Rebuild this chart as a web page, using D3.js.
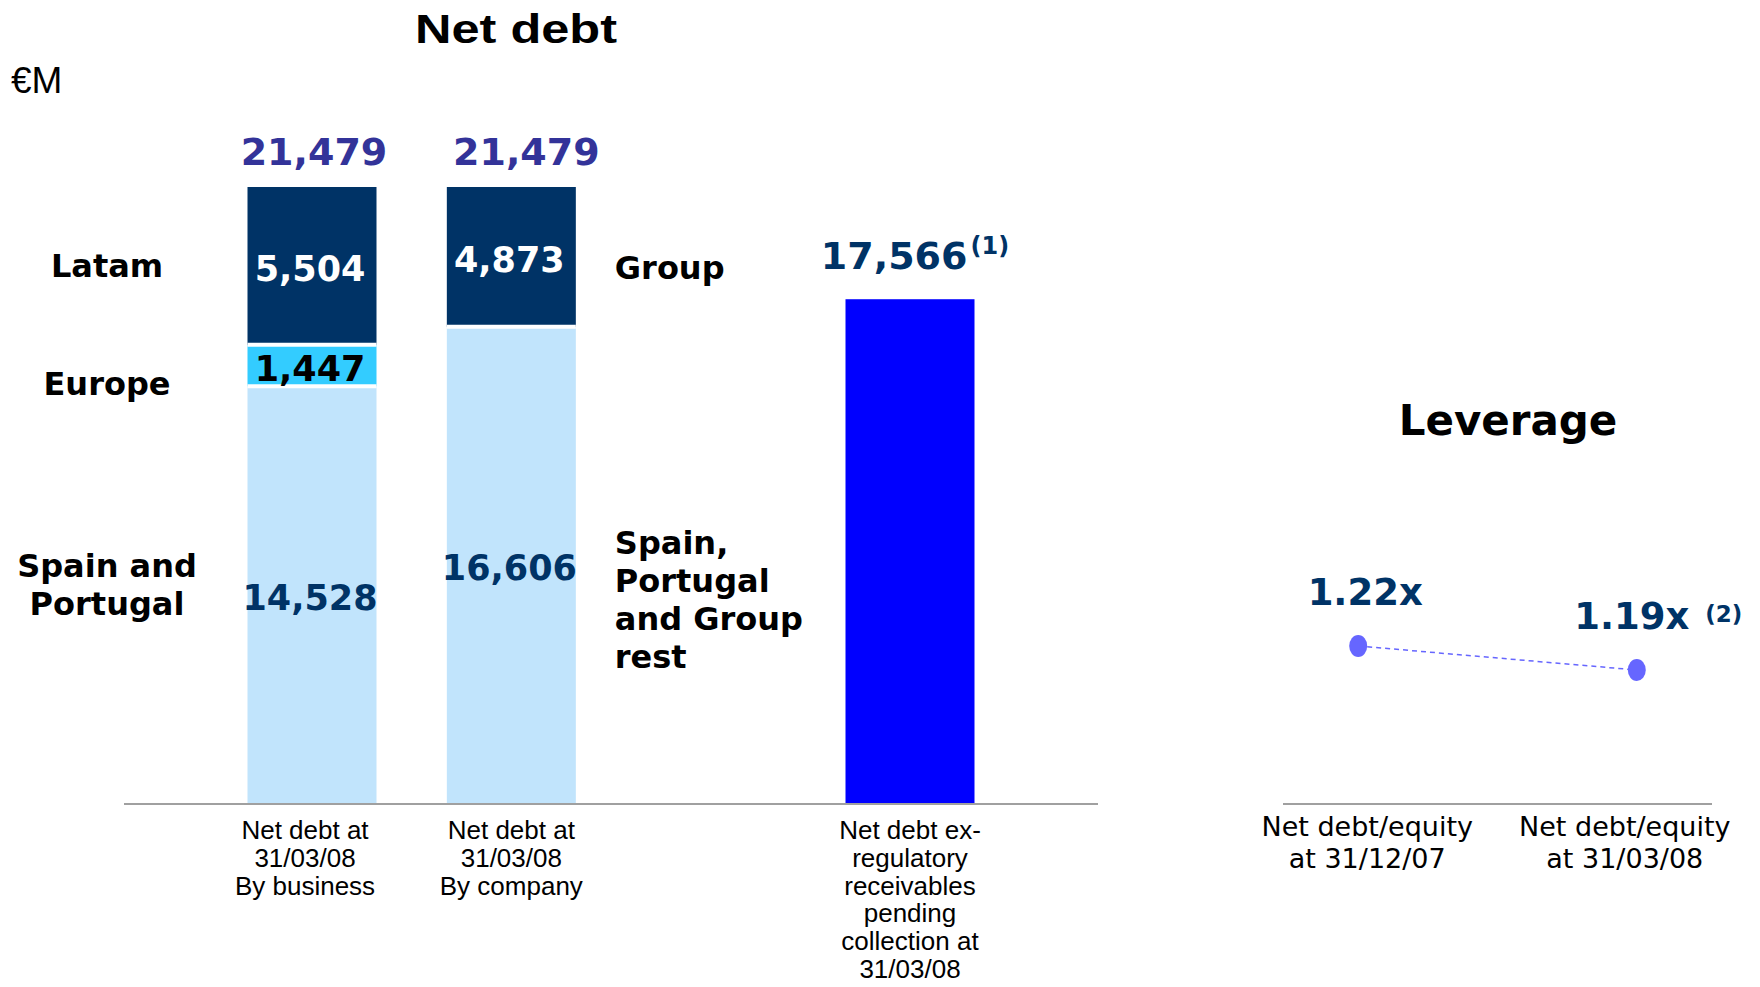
<!DOCTYPE html>
<html>
<head>
<meta charset="utf-8">
<script src="https://cdn.jsdelivr.net/npm/d3@7"></script>
<style>
  html, body { margin: 0; padding: 0; background: #ffffff; }
  svg { display: block; }
</style>
</head>
<body>
<svg id="chart" width="1760" height="987"></svg>
<script>
// ---- Net debt (EUR million) ----
const barCategories = [
  ["Net debt at", "31/03/08", "By business"],
  ["Net debt at", "31/03/08", "By company"],
  ["Net debt ex-", "regulatory", "receivables", "pending", "collection at", "31/03/08"]
];
const barSlots = [0, 1, 3];           // third bar sits one slot further right

const businessNames  = ["Spain and Portugal", "Europe", "Latam"];
const businessValues = [14528, 1447, 5504];

const companyNames  = ["Spain, Portugal and Group rest", "Group"];
const companyValues = [16606, 4873];

const exRegulatoryValue = 17566;
const barTotals = [21479, 21479, 17566];

// ---- Leverage ----
const leverageCategories = [["Net debt/equity", "at 31/12/07"], ["Net debt/equity", "at 31/03/08"]];
const leverageValues = [1.22, 1.19];
const leverageLabels = ["1.22x", "1.19x"];

// ---- styling ----
const C = {
  latam: "#003366", europe: "#33ccff", spain: "#c1e4fc", exreg: "#0000ff",
  total: "#333399", value: "#003366", axis: "#a0a0a0", dot: "#6666ff"
};
const BOLD = "'DejaVu Sans', Verdana, sans-serif";
const ARIAL = "'Liberation Sans', Arial, sans-serif";

const svg = d3.select("#chart");

// scales
const x = d3.scaleLinear().domain([0, 3]).range([312, 910]);
const barW = 129;
const y = d3.scaleLinear().domain([0, 21479]).range([803, 187]);

// build stacked segments for the two stacked bars
function stackOf(names, values, slot, colors, textColors) {
  let acc = 0;
  return names.map((n, i) => {
    const s = { name: n, value: values[i], y0: acc, y1: acc + values[i], slot,
                color: colors[i], textColor: textColors[i] };
    acc += values[i];
    return s;
  });
}
const businessStack = stackOf(businessNames, businessValues, barSlots[0],
  [C.spain, C.europe, C.latam], [C.value, "#000000", "#ffffff"]);
const companyStack = stackOf(companyNames, companyValues, barSlots[1],
  [C.spain, C.latam], [C.value, "#ffffff"]);
const segments = businessStack.concat(companyStack);

// titles
svg.append("text")
  .attr("x", 415).attr("y", 43)
  .attr("textLength", 202).attr("lengthAdjust", "spacingAndGlyphs")
  .style("font-family", ARIAL).style("font-weight", "bold").style("font-size", "40px")
  .text("Net debt");

svg.append("text")
  .attr("x", 11).attr("y", 93)
  .style("font-family", ARIAL).style("font-size", "37px")
  .text("€M");

// stacked bars
svg.append("g").selectAll("rect")
  .data(segments)
  .join("rect")
  .attr("x", d => x(d.slot) - barW / 2)
  .attr("width", barW)
  .attr("y", d => y(d.y1))
  .attr("height", d => y(d.y0) - y(d.y1))
  .attr("fill", d => d.color);

// white separators between stacked segments
svg.append("g").selectAll("line")
  .data(segments.filter(d => d.y0 > 0))
  .join("line")
  .attr("x1", d => x(d.slot) - barW / 2)
  .attr("x2", d => x(d.slot) + barW / 2)
  .attr("y1", d => y(d.y0)).attr("y2", d => y(d.y0))
  .attr("stroke", "#ffffff").attr("stroke-width", 4);

// ex-regulatory bar
svg.append("rect")
  .attr("x", x(barSlots[2]) - barW / 2)
  .attr("width", barW)
  .attr("y", y(exRegulatoryValue))
  .attr("height", y(0) - y(exRegulatoryValue))
  .attr("fill", C.exreg);

// segment values
const fmt = d3.format(",");
svg.append("g").selectAll("text")
  .data(segments)
  .join("text")
  .attr("x", d => x(d.slot) - 2)
  .attr("y", d => (y(d.y0) + y(d.y1)) / 2 + 15)
  .attr("text-anchor", "middle")
  .style("font-family", BOLD).style("font-weight", "bold").style("font-size", "35px")
  .attr("fill", d => d.textColor)
  .text(d => fmt(d.value));

// totals above the stacked bars
const totalNudge = [2, 15];
svg.append("g").selectAll("text")
  .data(barTotals.slice(0, 2))
  .join("text")
  .attr("x", (d, i) => x(barSlots[i]) + totalNudge[i])
  .attr("y", d => y(d) - 22)
  .attr("text-anchor", "middle")
  .style("font-family", BOLD).style("font-weight", "bold").style("font-size", "38px")
  .attr("fill", C.total)
  .text(d => fmt(d));

// total for the ex-regulatory bar with footnote mark
const exLabel = svg.append("text")
  .attr("x", x(barSlots[2]) + 5)
  .attr("y", y(barTotals[2]) - 30)
  .attr("text-anchor", "middle")
  .style("font-family", BOLD).style("font-weight", "bold")
  .attr("fill", C.value);
exLabel.append("tspan").style("font-size", "38px").text(fmt(barTotals[2]));
exLabel.append("tspan").attr("dx", 3).attr("dy", -15).style("font-size", "24px").text("(1)");

// segment captions (left of first bar, right of second bar)
const captionStyle = sel => sel
  .style("font-family", BOLD).style("font-weight", "bold").style("font-size", "32px")
  .attr("fill", "#000000");

const leftCaptions = [
  { seg: businessStack[2], lines: ["Latam"], dy: 11 },
  { seg: businessStack[1], lines: ["Europe"], dy: 29 },
  { seg: businessStack[0], lines: ["Spain and", "Portugal"], dy: -18 }
];
leftCaptions.forEach(c => {
  const t = svg.append("text")
    .attr("text-anchor", "middle")
    .attr("x", 107)
    .attr("y", (y(c.seg.y0) + y(c.seg.y1)) / 2 + c.dy)
    .call(captionStyle);
  c.lines.forEach((l, i) => t.append("tspan").attr("x", 107).attr("dy", i ? 38 : 0).text(l));
});

const rightCaptions = [
  { seg: companyStack[1], lines: ["Group"], dy: 22 },
  { seg: companyStack[0], lines: ["Spain,", "Portugal", "and Group", "rest"], dy: -11 }
];
rightCaptions.forEach(c => {
  const x0 = x(c.seg.slot) + barW / 2 + 39;
  const t = svg.append("text")
    .attr("x", x0)
    .attr("y", (y(c.seg.y0) + y(c.seg.y1)) / 2 + c.dy)
    .call(captionStyle);
  c.lines.forEach((l, i) => t.append("tspan").attr("x", x0).attr("dy", i ? 38 : 0).text(l));
});

// baseline
svg.append("line")
  .attr("x1", 124).attr("x2", 1098)
  .attr("y1", y(0) + 1).attr("y2", y(0) + 1)
  .attr("stroke", C.axis).attr("stroke-width", 2);

// category labels under the bars
barCategories.forEach((lines, i) => {
  const cx = x(barSlots[i]) - (i === 0 ? 7 : 0);
  const t = svg.append("text")
    .attr("text-anchor", "middle")
    .attr("x", cx).attr("y", 839)
    .style("font-family", ARIAL).style("font-size", "26px")
    .attr("fill", "#000000");
  lines.forEach((l, j) => t.append("tspan").attr("x", cx).attr("dy", j ? 27.8 : 0).text(l));
});

// ---- Leverage panel ----
svg.append("text")
  .attr("x", 1508).attr("y", 435)
  .attr("text-anchor", "middle")
  .style("font-family", BOLD).style("font-weight", "bold").style("font-size", "42px")
  .text("Leverage");

const xl = d3.scalePoint().domain(leverageCategories.map((d, i) => i))
  .range([1283, 1712]).padding(0.27);
const yl = d3.scaleLinear().domain([1.0, 1.3]).range([822, 582]);

svg.append("line")
  .attr("x1", 1283).attr("x2", 1712)
  .attr("y1", 804).attr("y2", 804)
  .attr("stroke", C.axis).attr("stroke-width", 2);

const lev = leverageValues.map((v, i) => ({ v, i, label: leverageLabels[i] }));

svg.append("path")
  .datum(lev)
  .attr("d", d3.line().x(d => xl(d.i)).y(d => yl(d.v)))
  .attr("fill", "none")
  .attr("stroke", C.dot).attr("stroke-width", 1.5)
  .attr("stroke-dasharray", "5,4");

svg.append("g").selectAll("ellipse")
  .data(lev)
  .join("ellipse")
  .attr("cx", d => xl(d.i)).attr("cy", d => yl(d.v))
  .attr("rx", 9).attr("ry", 11)
  .attr("fill", C.dot);

const levText = svg.append("g").selectAll("text")
  .data(lev)
  .join("text")
  .attr("x", d => xl(d.i) + 7 - d.i * 12)
  .attr("y", d => yl(d.v) - 41)
  .attr("text-anchor", "middle")
  .style("font-family", BOLD).style("font-weight", "bold").style("font-size", "37px")
  .attr("fill", C.value)
  .text(d => d.label);

// footnote mark after the latest ratio
const lastNode = levText.nodes()[1];
const lastLen = lastNode.getComputedTextLength();
svg.append("text")
  .attr("x", +lastNode.getAttribute("x") + lastLen / 2 + 16)
  .attr("y", yl(leverageValues[1]) - 48)
  .style("font-family", BOLD).style("font-weight", "bold").style("font-size", "23px")
  .attr("fill", C.value)
  .text("(2)");

leverageCategories.forEach((lines, i) => {
  const cx = xl(i) + (i === 0 ? 9 : -12);
  const t = svg.append("text")
    .attr("text-anchor", "middle")
    .attr("x", cx).attr("y", 836)
    .style("font-family", BOLD).style("font-size", "27px")
    .attr("fill", "#000000");
  lines.forEach((l, j) => t.append("tspan").attr("x", cx).attr("dy", j ? 32 : 0).text(l));
});
</script>
</body>
</html>
